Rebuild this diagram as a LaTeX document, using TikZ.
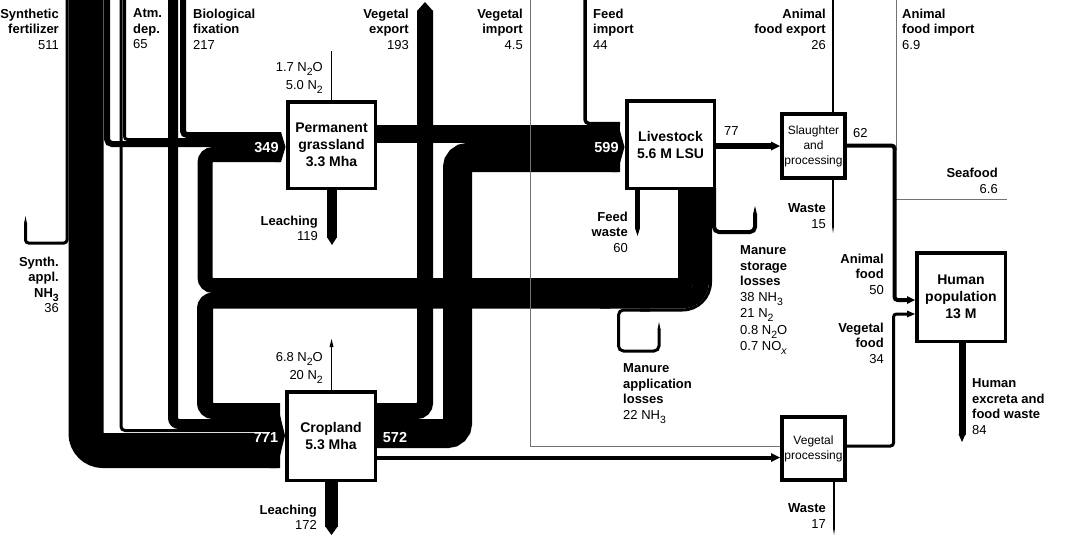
\documentclass[tikz,border=0pt]{standalone}
\usepackage{fontspec}
\setmainfont{Liberation Sans}
\newcommand\lowr[1]{\raisebox{-0.3em}{\fontsize{10.5}{10}\selectfont #1}}
\begin{document}
\begin{tikzpicture}[x=1pt,y=-1pt,
  band/.style={draw=black, line cap=butt, line join=miter},
  gline/.style={draw=black!55, line width=0.8pt},
  box/.style={draw=black, fill=white, line width=3.5pt, align=center, inner sep=0pt,
    font=\fontsize{14}{17}\selectfont\bfseries},
  sbox/.style={draw=black, fill=white, line width=4pt, align=center, inner sep=0pt,
    font=\fontsize{12}{15}\selectfont},
  lab/.style={inner sep=0pt, font=\fontsize{13}{15.5}\selectfont},
  labr/.style={lab, anchor=north east, align=right},
  labl/.style={lab, anchor=north west, align=left},
  num/.style={text=white, inner sep=0pt, anchor=base, font=\fontsize{14.5}{16}\selectfont\bfseries},
]
\useasboundingbox (0,0) rectangle (1065,539);
\fill[white] (0,0) rectangle (1065,539);

% ---------- inputs to the land (left columns) ----------
% synthetic fertilizer
\draw[band, line width=35pt, rounded corners=17pt] (86,0) -- (86,450.5) -- (280,450.5);
\draw[band, line width=3pt, rounded corners=3pt] (67,0) -- (67,243) -- (25.5,243) -- (25.5,223);
\fill (24,223.5) -- (25.5,216) -- (27,223.5) -- cycle;
\draw[band, line width=6pt, rounded corners=5pt] (107,0) -- (107,144) -- (280,144);
% atmospheric deposition
\draw[band, line width=3pt, rounded corners=4pt] (121,0) -- (121,430.5) -- (280,430.5);
\draw[band, line width=3pt, rounded corners=3pt] (124.5,0) -- (124.5,139.5) -- (280,139.5);
% biological fixation
\draw[band, line width=10pt, rounded corners=6pt] (173,0) -- (173,424) -- (280,424);
\draw[band, line width=6pt, rounded corners=4pt] (183,0) -- (183,135) -- (280,135);

% ---------- manure from livestock ----------
\draw[band, line width=15pt, rounded corners=3pt] (685.5,188) -- (685.5,285.5) -- (600,285.5);
\draw[band, line width=15pt, rounded corners=8pt] (610,285.5) -- (205,285.5) -- (205,154.5) -- (280,154.5);
\draw[band, line width=16pt, rounded corners=18.5pt] (701,188) -- (701,300.5) -- (600,300.5);
\draw[band, line width=16pt, rounded corners=8pt] (610,300.5) -- (205,300.5) -- (205,411) -- (280,411);
% manure application losses
\draw[band, line width=3pt, rounded corners=28pt] (710.5,188) -- (710.5,310) -- (640,310);
\draw[band, line width=3pt, rounded corners=5pt] (650,310) -- (618.5,310) -- (618.5,351) -- (659,351) -- (659,329);
\fill (657.5,329.5) -- (659,322) -- (660.5,329.5) -- cycle;
% manure storage losses
\draw[band, line width=4pt, rounded corners=5pt] (714,188) -- (714,232) -- (755,232) -- (755,214);
\fill (753,214.5) -- (755,206) -- (757,214.5) -- cycle;
% feed waste
\draw[band, line width=5pt] (637.5,188) -- (637.5,228.5);
\fill (635,228) -- (637.5,236) -- (640,228) -- cycle;

% ---------- cropland outputs ----------
\draw[band, line width=29pt, rounded corners=10pt] (377,433.5) -- (457.5,433.5) -- (457.5,157.5) -- (620,157.5);
\draw[band, line width=16pt, rounded corners=8pt] (377,411) -- (425,411) -- (425,10.5);
\fill (417,11) -- (425,2) -- (433,11) -- cycle;
\draw[band, line width=4pt] (377,457.5) -- (772,457.5);
\fill (771,453) -- (780,457.5) -- (771,462) -- cycle;

% ---------- feed to livestock ----------
\draw[band, line width=18pt] (377,134) -- (620,134);
\draw[band, line width=3.5pt, rounded corners=4pt] (585,0) -- (585,123.5) -- (620,123.5);

% ---------- stacked arrow heads ----------
\fill (275,132) -- (281,132) -- (285.5,147) -- (281,162) -- (275,162) -- cycle;
\fill (270,403) -- (277,403) -- (285,435.5) -- (277,468) -- (270,468) -- cycle;
\fill (612,122) -- (617.5,122) -- (624.5,147) -- (617.5,172) -- (612,172) -- cycle;

% ---------- losses from land ----------
\draw[band, line width=10pt] (332,188) -- (332,237.5);
\fill (327,237) -- (332,245) -- (337,237) -- cycle;
\draw[band, line width=13pt] (331.5,480) -- (331.5,526.5);
\fill (325,526) -- (331.5,535) -- (338,526) -- cycle;
\draw[band, line width=1pt] (331.5,390) -- (331.5,346);
\fill (329.5,347) -- (331.5,339) -- (333.5,347) -- cycle;
\draw[band, line width=0.8pt] (331.5,100) -- (331.5,51);

% ---------- processing and food ----------
\draw[band, line width=6pt] (716,146) -- (772,146);
\fill (771,141.5) -- (780,146) -- (771,150.5) -- cycle;
\draw[band, line width=2pt] (833,112) -- (833,0);
\draw[band, line width=1.5pt] (833,180) -- (833,226);
\fill (832,226) -- (833,233) -- (834,226) -- cycle;
\draw[gline] (896,0) -- (896,150);
\draw[gline] (896,199) -- (1007,199);
\draw[band, line width=4pt, rounded corners=3pt] (847,145.5) -- (894.5,145.5) -- (894.5,300) -- (908,300);
\fill (907,296) -- (915,300) -- (907,304) -- cycle;
\draw[gline] (530.5,0) -- (530.5,446) -- (780,446);
\draw[band, line width=3pt, rounded corners=3pt] (847,446) -- (893.5,446) -- (893.5,314) -- (908,314);
\fill (907,310.5) -- (915,314) -- (907,317.5) -- cycle;
\draw[band, line width=1.5pt] (834,482) -- (834,528);
\fill (833,528) -- (834,535) -- (835,528) -- cycle;
\draw[band, line width=7pt] (962,341) -- (962,434.5);
\fill (958.5,434) -- (962,442) -- (965.5,434) -- cycle;

% ---------- boxes ----------
\node[box, minimum width=87.5pt, minimum height=86.5pt] (grass) at (331.5,145) {Permanent\\grassland\\3.3 Mha};
\node[box, minimum width=88.5pt, minimum height=88.5pt] (crop) at (331,436) {Cropland\\5.3 Mha};
\node[box, minimum width=87.5pt, minimum height=87.5pt] (live) at (670.5,144.5) {Livestock\\5.6 M LSU};
\node[box, minimum width=88.5pt, minimum height=88.5pt] (human) at (961,297) {Human\\population\\13 M};
\node[sbox, minimum width=63pt, minimum height=64pt] (slaught) at (813.5,146) {Slaughter\\and\\processing};
\node[sbox, minimum width=63pt, minimum height=63pt] (vegproc) at (813.5,448.5) {Vegetal\\processing};

% ---------- flow values on bands ----------
\node[num] (n349) at (266.5,152) {349};
\node[num] (n771) at (266,442) {771};
\node[num] (n572) at (395,442) {572};
\node[num] (n599) at (606.5,152) {599};

% ---------- labels ----------
\node[labr] (lsyn) at (59,8.5) {\textbf{Synthetic}\\\textbf{fertilizer}\\511};
\node[labl] (latm) at (133,8.5) {\textbf{Atm.}\\\textbf{dep.}\\65};
\node[labl] (lbio) at (193,8.5) {\textbf{Biological}\\\textbf{fixation}\\217};
\node[labr] (lvex) at (409,8.5) {\textbf{Vegetal}\\\textbf{export}\\193};
\node[labr] (lvim) at (523,8.5) {\textbf{Vegetal}\\\textbf{import}\\4.5};
\node[labl] (lfeed) at (593,8.5) {\textbf{Feed}\\\textbf{import}\\44};
\node[labr] (lafe) at (826,8.5) {\textbf{Animal}\\\textbf{food export}\\26};
\node[labl] (lafi) at (902,8.5) {\textbf{Animal}\\\textbf{food import}\\6.9};
\node[labr] (lsea) at (998,168) {\textbf{Seafood}\\6.6};
\node[labr] (lnh3) at (59,256.5) {\textbf{Synth.}\\\textbf{appl.}\\\textbf{NH\lowr{3}}\\36};
\node[labr] (lgem) at (323,62.5) {1.7 N\lowr{2}O\\[2pt]5.0 N\lowr{2}};
\node[labr] (lgle) at (318,215.5) {\textbf{Leaching}\\119};
\node[labr] (lcem) at (323,352.5) {6.8 N\lowr{2}O\\[2pt]20 N\lowr{2}};
\node[labr] (lcle) at (317,504.5) {\textbf{Leaching}\\172};
\node[labr] (lfw) at (628,211.5) {\textbf{Feed}\\\textbf{waste}\\60};
\node[labl] (lmsl) at (740,245.5) {\textbf{Manure}\\\textbf{storage}\\\textbf{losses}\\38 NH\lowr{3}\\[1pt]21 N\lowr{2}\\[1pt]0.8 N\lowr{2}O\\[1pt]0.7 NO\lowr{\textit{x}}};
\node[labl] (lmal) at (623,363.5) {\textbf{Manure}\\\textbf{application}\\\textbf{losses}\\22 NH\lowr{3}};
\node[labr] (lws) at (826,203.5) {\textbf{Waste}\\15};
\node[labr] (lwv) at (826,503.5) {\textbf{Waste}\\17};
\node[labr] (laf) at (884,253.5) {\textbf{Animal}\\\textbf{food}\\50};
\node[labr] (lvf) at (884,322.5) {\textbf{Vegetal}\\\textbf{food}\\34};
\node[labl] (lhx) at (972,378.5) {\textbf{Human}\\\textbf{excreta and}\\\textbf{food waste}\\84};
\node[lab, anchor=base west] (l62) at (853,137) {62};
\node[lab, anchor=base west] (l77) at (724,135) {77};
\end{tikzpicture}
\end{document}
